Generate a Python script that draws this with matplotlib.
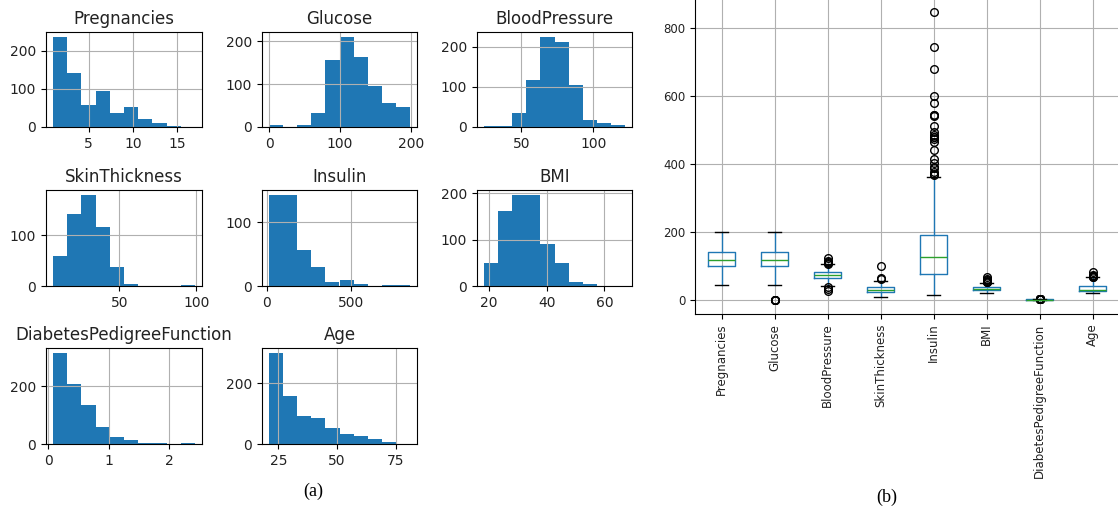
import numpy as np
import matplotlib
matplotlib.use('Agg')
import matplotlib.pyplot as plt

# ---- histogram data (10 bins between min and max of each column) ----
names = ['Pregnancies', 'Glucose', 'BloodPressure', 'SkinThickness', 'Insulin',
         'BMI', 'DiabetesPedigreeFunction', 'Age']
mins = [1, 0, 24, 7, 14, 18.2, 0.078, 21]
maxs = [17, 199, 122, 99, 846, 67.1, 2.42, 81]
preg_counts = [238, 143, 57, 95, 38, 52, 20, 10, 3, 1]
gluc_counts = [5, 0, 4, 32, 156, 211, 163, 95, 56, 46]
bp_counts = [3, 2, 35, 117, 226, 212, 105, 18, 11, 4]
skin_counts = [59, 142, 180, 117, 38, 4, 0, 0, 0, 1]
ins_counts = [143, 143, 56, 30, 6, 10, 3, 0, 2, 1]
bmi_counts = [50, 161, 197, 195, 91, 49, 9, 4, 0, 1]
dpf_counts = [318, 208, 135, 58, 25, 14, 4, 4, 0, 2]
age_counts = [300, 157, 92, 86, 52, 34, 25, 16, 5, 1]
all_counts = [preg_counts, gluc_counts, bp_counts, skin_counts,
              ins_counts, bmi_counts, dpf_counts, age_counts]
xticks = [[5, 10, 15], [0, 100, 200], [50, 100], [50, 100],
          [0, 500], [20, 40, 60], [0, 1, 2], [25, 50, 75]]
yticks = [[0, 100, 200], [0, 100, 200], [0, 100, 200], [0, 100],
          [0, 100], [0, 100, 200], [0, 200], [0, 200]]

# ---- box plot stats (whislo, q1, med, q3, whishi, fliers) ----
box_labels = names
box_whislo = [44, 44, 40, 7, 14, 18.2, 0.078, 21]
box_q1 = [99, 99, 64, 22, 76.25, 27.5, 0.244, 24]
box_med = [117, 117, 72, 29, 125, 32.3, 0.3725, 29]
box_q3 = [141, 140.25, 80, 36, 190, 36.6, 0.626, 41]
box_whishi = [199, 199, 104, 56, 360, 50.0, 1.191, 66]
box_fliers = [
    [],
    [0, 0, 0, 0, 0],
    [106, 108, 110, 114, 122, 24, 30, 38],
    [60, 63, 99],
    [846, 744, 680, 600, 579, 545, 543, 540, 510, 495, 485, 480, 478, 474,
     465, 440, 415, 402, 392, 387, 375, 370, 368],
    [52.3, 52.9, 53.2, 55.0, 57.3, 59.4, 67.1],
    [1.213, 1.222, 1.251, 1.282, 1.318, 1.353, 1.394, 1.441, 1.476, 1.6,
     1.698, 1.731, 1.781, 1.893, 2.137, 2.288, 2.329, 2.42],
    [67, 68, 69, 70, 72, 81],
]

W, H = 1118, 514
fig = plt.figure(figsize=(W / 100, H / 100), dpi=100)

col_x = [(46, 202), (262, 417), (477, 632)]
row_y = [(32, 127), (190, 286), (348, 444)]

for i, name in enumerate(names):
    r, c = divmod(i, 3)
    x0, x1 = col_x[c]
    y0, y1 = row_y[r]
    ax = fig.add_axes([x0 / W, 1 - y1 / H, (x1 - x0) / W, (y1 - y0) / H])
    edges = np.linspace(mins[i], maxs[i], 11)
    ax.hist(edges[:-1], bins=edges, weights=all_counts[i], color='#1f77b4')
    ax.set_title(name, fontsize=12, color='#222222')
    ax.grid(True)
    ax.set_xticks(xticks[i])
    ax.set_yticks(yticks[i])
    ax.tick_params(labelsize=10, labelcolor='#222222')

fig.text(313 / W, 1 - 491 / H, '(a)', ha='center', va='center',
         fontsize=13, family='Liberation Serif')

# box plot panel (top and right edge are cut off in the original)
bx = fig.add_axes([695 / W, 1 - 314 / H, 424 / W, 316 / H])
stats = []
for k in range(len(box_labels)):
    stats.append(dict(label=box_labels[k], whislo=box_whislo[k], q1=box_q1[k],
                      med=box_med[k], q3=box_q3[k], whishi=box_whishi[k],
                      fliers=box_fliers[k]))
bx.bxp(stats,
       boxprops=dict(color='#1f77b4', linewidth=1),
       whiskerprops=dict(color='#1f77b4', linewidth=1),
       medianprops=dict(color='#2ca02c', linewidth=1),
       capprops=dict(color='black', linewidth=1),
       flierprops=dict(marker='o', markerfacecolor='none',
                       markeredgecolor='black', markersize=5.5, linewidth=0.8))
bx.set_ylim(-42.3, 888.3)
bx.set_yticks([0, 200, 400, 600, 800])
bx.grid(True)
bx.spines['top'].set_visible(False)
bx.spines['right'].set_visible(False)
bx.tick_params(labelsize=8.5, labelcolor='#222222')
bx.tick_params(axis='x', labelrotation=90)

fig.text(887 / W, 1 - 497 / H, '(b)', ha='center', va='center',
         fontsize=13, family='Liberation Serif')

fig.savefig('out.png', dpi=100)
